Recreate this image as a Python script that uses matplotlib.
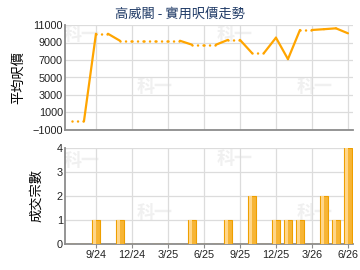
import numpy as np
import matplotlib
matplotlib.use("Agg")
import matplotlib.pyplot as plt

plt.rcParams['font.family'] = ['Liberation Sans', 'Noto Sans CJK TC', 'DejaVu Sans']

# monthly data, 7/24 .. 6/26
months = ['7/24', '8/24', '9/24', '10/24', '11/24', '12/24', '1/25', '2/25', '3/25',
          '4/25', '5/25', '6/25', '7/25', '8/25', '9/25', '10/25', '11/25', '12/25',
          '1/26', '2/26', '3/26', '4/26', '5/26', '6/26']
prices = [0, 0, 10000, 10000, 9200, 9200, 9200, 9200, 9200, 9200, 8750, 8750,
          8750, 9300, 9300, 7800, 7800, 9550, 7100, 10430, 10430, 10520, 10620, 10050]
counts = [0, 0, 1, 0, 1, 0, 0, 0, 0, 0, 1, 0, 0, 1, 0, 2, 0, 1, 1, 1, 0, 2, 1, 4]
tick_labels = ['9/24', '12/24', '3/25', '6/25', '9/25', '12/25', '3/26', '6/26']
tick_pos = [months.index(t) for t in tick_labels]

x = np.arange(len(months))
orange = '#FFA500'
grid_c = '#DCDCDC'
spine_c = '#8C8C8C'

fig = plt.figure(figsize=(3.6, 2.7), dpi=100)
ax1 = fig.add_axes([65/360, 1-130/270, 288/360, 105/270])
ax2 = fig.add_axes([65/360, 1-244/270, 288/360, 96.3/270])

for ax in (ax1, ax2):
    ax.set_facecolor('none')
    ax.set_xlim(-0.58, 23.42)
    ax.set_xticks(tick_pos)
    for s in ('top', 'right'):
        ax.spines[s].set_visible(False)
    for s in ('left', 'bottom'):
        ax.spines[s].set_color(spine_c)
        ax.spines[s].set_linewidth(1.3)
    ax.grid(True, color=grid_c, linewidth=0.9)
    ax.set_axisbelow(True)
    ax.tick_params(labelsize=7.8, colors='#222222', length=3, width=0.8, pad=1.5)
    ax.tick_params(axis='x', colors=spine_c, labelcolor='#222222')
    ax.tick_params(axis='y', length=0)

# price line: solid if the month has transactions, dotted otherwise
for i in range(len(x) - 1):
    if counts[i + 1] > 0:
        ax1.plot(x[i:i+2], prices[i:i+2], color=orange, lw=1.6, solid_capstyle='round', zorder=3)
    else:
        ax1.plot(x[i:i+2], prices[i:i+2], color=orange, lw=1.8,
                 linestyle=(0, (0.01, 2.2)), dash_capstyle='round', zorder=3)
ax1.set_ylim(-1000, 11000)
ax1.set_yticks(range(-1000, 11001, 2000))
ax1.tick_params(axis='x', labelbottom=False, length=0)
ax1.set_ylabel('平均呎價', fontsize=9.5, family=['Noto Sans CJK TC'], labelpad=5)

# transaction bars
ax2.bar(x, counts, width=0.7, color='#F7B535', edgecolor='#EE9F00', linewidth=0.8, zorder=3)
ax2.bar(x - 0.1, counts, width=0.25, color='#FFD68A', linewidth=0, zorder=4)
ax2.set_ylim(0, 4)
ax2.set_yticks(range(0, 5))
ax2.set_xticklabels(tick_labels)
ax2.set_ylabel('成交宗數', fontsize=9.5, family=['Noto Sans CJK TC'], labelpad=10)

fig.text(0.5, 1-14/270, '高威閣 - 實用呎價走勢', ha='center', va='center', fontsize=9.5,
         color='#1F3A66', family=['Noto Sans CJK TC', 'DejaVu Sans'])

# faint watermarks
for wx, wy in [(82, 34), (235, 34), (155, 86), (315, 86), (82, 160), (235, 158), (155, 212), (315, 212)]:
    fig.text(wx/360, 1-wy/270, '科一', ha='center', va='center', fontsize=13, fontweight='bold',
             color='#F0F0F0', family=['Noto Sans CJK TC'], zorder=-1)

fig.savefig('out.png', dpi=100)
